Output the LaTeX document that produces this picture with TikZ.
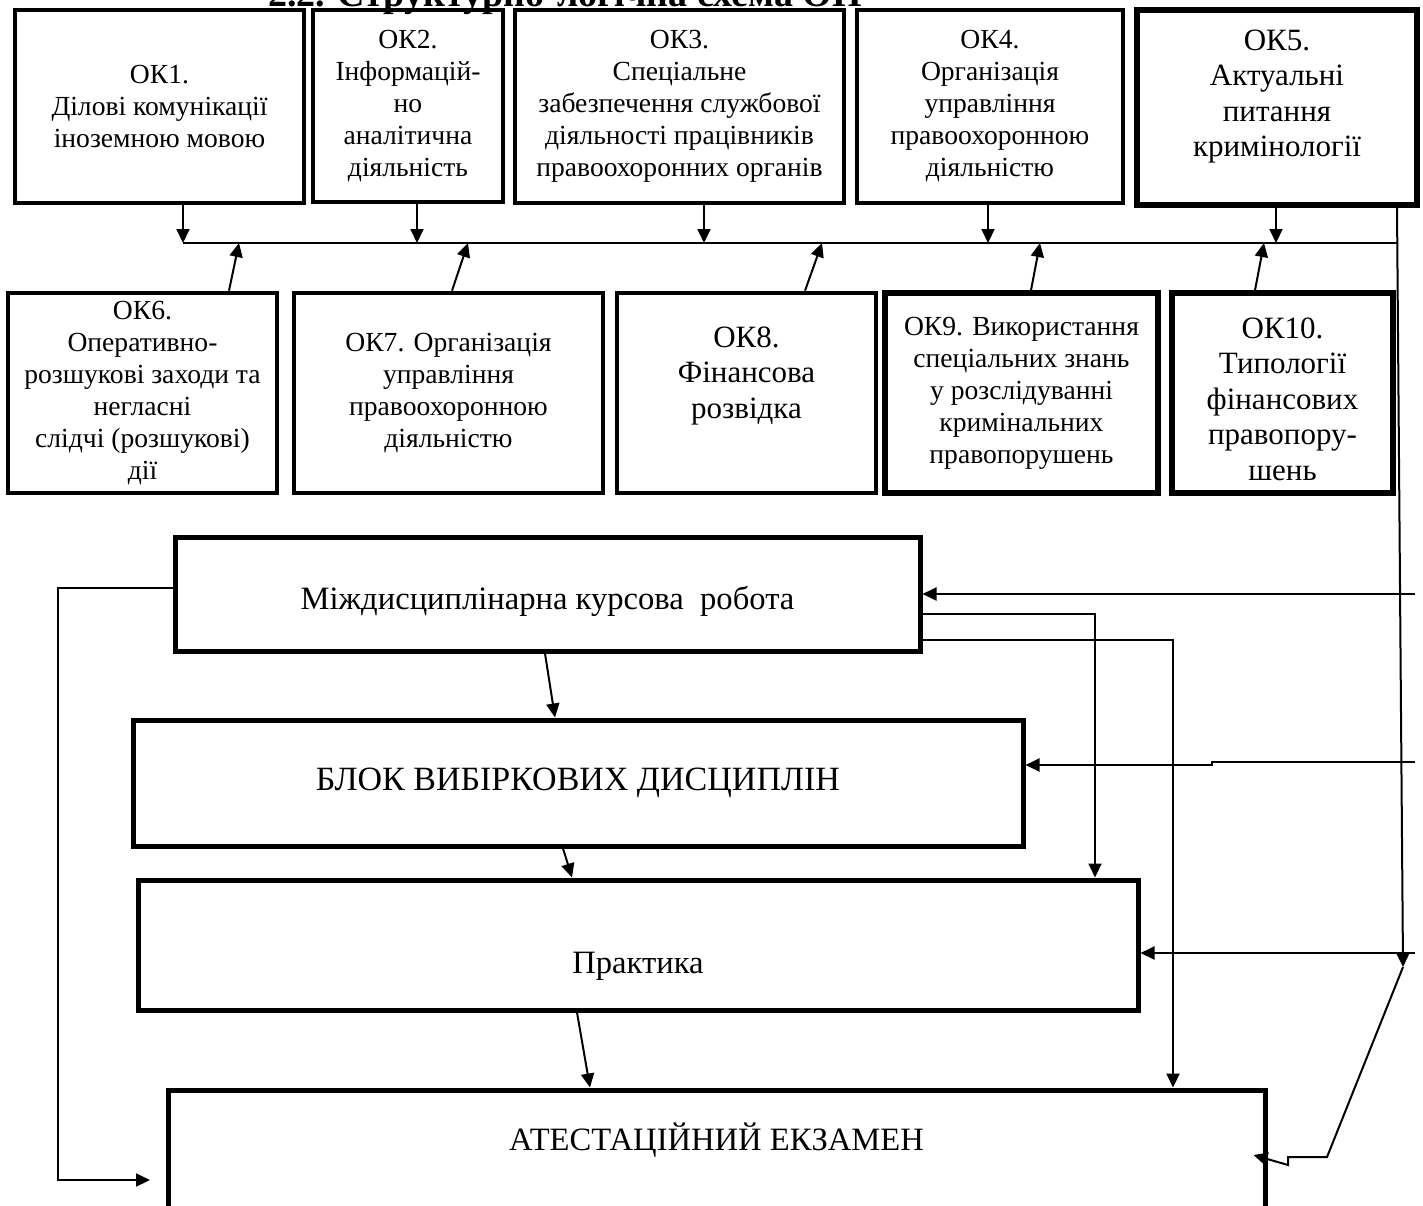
\documentclass[tikz,border=0pt]{standalone}
\usepackage{fontspec}
\setmainfont{Liberation Serif}
\usepackage{tikz}
\usetikzlibrary{positioning, arrows.meta}

\begin{document}
\begin{tikzpicture}[x=0.5pt, y=-0.5pt, line width=1pt, >={Triangle[length=7pt, width=6.5pt]},
    box/.style={draw, line width=2.3pt, align=center, inner sep=0pt, font=\fontsize{13.8}{16}\selectfont},
    bigtext/.style={font=\fontsize{15.5}{17.7}\selectfont},
    stage/.style={draw, line width=2.5pt, align=center, inner sep=0pt, font=\fontsize{16.3}{18}\selectfont}]
    \useasboundingbox (0,0) rectangle (1423,1205);
    \clip (0,0) rectangle (1423,1205);

    \node[anchor=base, font=\bfseries\fontsize{19}{22}\selectfont] (title) at (565,6)
        {2.2. Структурно-логічна схема ОП};

    \node[box, minimum width=144.5pt, minimum height=96.5pt] (ok1) at (159.5,106.5)
        {ОК1.\\Ділові комунікації\\іноземною мовою};
    \node[box, minimum width=95pt, minimum height=96pt] (ok2) at (408,106)
        {ОК2.\\Інформацій-\\но\\аналітична\\діяльність};
    \node[box, minimum width=164.5pt, minimum height=96.5pt] (ok3) at (679.5,106.5)
        {ОК3.\\Спеціальне\\забезпечення службової\\діяльності працівників\\правоохоронних органів};
    \node[box, minimum width=133pt, minimum height=96.5pt] (ok4) at (990,106.5)
        {ОК4.\\Організація\\управління\\правоохоронною\\діяльністю};
    \node[box, bigtext, line width=3pt, minimum width=140pt, minimum height=97.5pt] (ok5) at (1277,107.5)
        {ОК5.\\Актуальні\\питання\\кримінології\\[-3.3pt]\mbox{}};

    \node[box, minimum width=134.5pt, minimum height=100pt] (ok6) at (142.5,393)
        {ОК6.\\Оперативно-\\розшукові заходи та\\негласні\\слідчі (розшукові)\\дії};
    \node[box, minimum width=154.5pt, minimum height=100pt] (ok7) at (448.5,393)
        {ОК7. Організація\\управління\\правоохоронною\\діяльністю};
    \node[box, bigtext, minimum width=129.5pt, minimum height=100pt] (ok8) at (746.5,393)
        {ОК8.\\Фінансова\\розвідка\\[2.7pt]\mbox{}};
    \node[box, line width=2.8pt, minimum width=136.5pt, minimum height=100pt] (ok9) at (1021.5,393)
        {ОК9. Використання\\спеціальних знань\\у розслідуванні\\кримінальних\\правопорушень};
    \node[box, bigtext, line width=2.8pt, minimum width=110.5pt, minimum height=100pt] (ok10) at (1282.5,393)
        {\mbox{}\\[-1.2pt]ОК10.\\Типології\\фінансових\\правопору-\\шень};

    \node[stage, minimum width=372.5pt, minimum height=57pt, text height=19pt, text depth=4pt] (kurs) at (547.5,594)
        {Міждисциплінарна курсова \ робота};
    \node[stage, font=\fontsize{17}{19}\selectfont, minimum width=445pt, minimum height=63pt] (blok) at (578,783)
        {БЛОК ВИБІРКОВИХ ДИСЦИПЛІН};
    \node[stage, minimum width=500pt, minimum height=65pt, text height=32pt, text depth=4pt] (prak) at (638,945)
        {Практика};
    \node[stage, minimum width=548.5pt, minimum height=70pt, text height=11pt, text depth=21pt] (atest) at (716.5,1160)
        {АТЕСТАЦІЙНИЙ ЕКЗАМЕН};

    \coordinate (bus) at (183,243);
    \coordinate (rtip) at (1403,967);
    \coordinate (redge) at (1415,0);
    \coordinate (lend) at (150,1180);

    \foreach \n/\dx in {ok1/11.75pt, ok2/4.5pt, ok3/12.25pt, ok4/-1pt, ok5/-0.5pt}
        \draw[->] ([xshift=\dx]\n.south) -- ([xshift=\dx]\n.south |- bus);
    \foreach \n/\a/\b in {ok6/43.25pt/48.25pt, ok7/1.75pt/9.75pt, ok8/29.25pt/37.75pt, ok9/4.75pt/9.25pt, ok10/-13.75pt/-9.25pt}
        \draw[->] ([xshift=\a]\n.north) -- ([xshift=\b]\n.north |- bus);

    \draw (bus) -- ([xshift=60pt]ok5.south |- bus);
    \draw[->] ([xshift=60pt]ok5.south) -- (rtip);

    \draw[->] (redge |- kurs.east) -- (kurs.east);
    \draw[->] ([yshift=10.5pt]blok.east -| redge) -- ++(-101.5pt,0) -- ++(0,-1.5pt) -- ([yshift=9pt]blok.east);
    \draw[->] ([yshift=-4pt]prak.east -| redge) -- ([yshift=-4pt]prak.east);

    \draw[->] ([yshift=-10pt]kurs.east) -| ([xshift=228.5pt]prak.north);
    \draw[->] ([yshift=-23pt]kurs.east) -| ([xshift=228.25pt]atest.north);

    \draw[->] ([xshift=-1.25pt]kurs.south) -- ([xshift=-11.5pt]blok.north);
    \draw[->] ([xshift=-7.5pt]blok.south) -- ([xshift=-33pt]prak.north);
    \draw[->] ([xshift=-30.5pt]prak.south) -- ([xshift=-63.25pt]atest.north);

    \draw[->] ([yshift=3pt]kurs.west) -- ++(-57.5pt,0) |- (lend);
    \draw[->] (rtip) -- ++(-38pt,-95pt) -- ++(-19.5pt,0) -- ++(0,-4pt) -- ([xshift=-7pt,yshift=2.5pt]atest.east);

\end{tikzpicture}
\end{document}
